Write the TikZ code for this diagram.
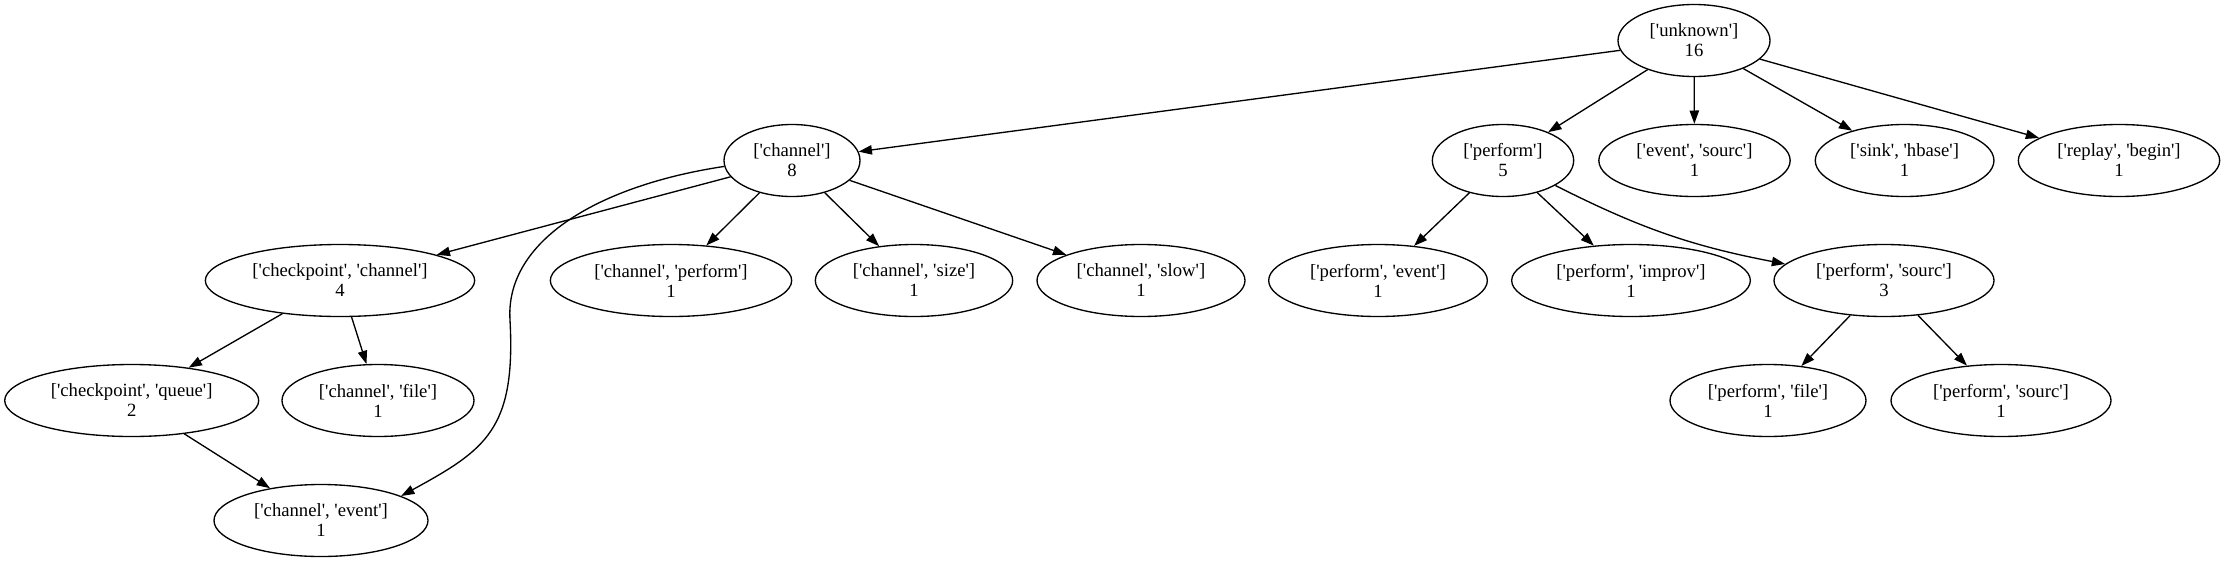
\documentclass[tikz,border=0pt]{standalone}
\usepackage{fontspec}
\setmainfont{Liberation Serif}[Ligatures=TeXOff]
\usetikzlibrary{shapes.geometric,arrows.meta}

\begin{document}
\begin{tikzpicture}[x=0.75pt,y=-0.75pt,line width=1pt]
	\tikzstyle{blob}=[ellipse,draw,inner sep=0pt,minimum height=54pt,align=center,font=\fontsize{14pt}{15pt}\selectfont];
	\tikzstyle{arr}=[-{Triangle[length=10pt,width=7pt]}];
	\useasboundingbox (0,0) rectangle (2221,561);
	%% root
	\node[blob,minimum width=114pt]   (U)   at (1694,40.5)    {['unknown']\\16};
	%% level 1
	\node[blob,minimum width=102pt]   (C)   at (792,160.5)    {['channel']\\8};
	\node[blob,minimum width=106pt]   (P)   at (1503,160.5)   {['perform']\\5};
	\node[blob,minimum width=143.5pt] (ES)  at (1694.5,160.5) {['event', 'sourc']\\1};
	\node[blob,minimum width=134pt]   (SH)  at (1904.6,160.5) {['sink', 'hbase']\\1};
	\node[blob,minimum width=151pt]   (RB)  at (2119,160.5)   {['replay', 'begin']\\1};
	%% level 2
	\node[blob,minimum width=202pt]   (CC)  at (340,280.5)    {['checkpoint', 'channel']\\4};
	\node[blob,minimum width=181pt]   (CP)  at (671,280.5)    {['channel', 'perform']\\1};
	\node[blob,minimum width=148pt]   (CS)  at (914,280.5)    {['channel', 'size']\\1};
	\node[blob,minimum width=156pt]   (CL)  at (1141,280.5)   {['channel', 'slow']\\1};
	\node[blob,minimum width=164pt]   (PE)  at (1378,280.5)   {['perform', 'event']\\1};
	\node[blob,minimum width=179pt]   (PI)  at (1631,280.5)   {['perform', 'improv']\\1};
	\node[blob,minimum width=165pt]   (PS)  at (1884,280.5)   {['perform', 'sourc']\\3};
	%% level 3
	\node[blob,minimum width=190.5pt] (CQ)  at (131.7,400.5)  {['checkpoint', 'queue']\\2};
	\node[blob,minimum width=144pt]   (CF)  at (378,400.5)    {['channel', 'file']\\1};
	\node[blob,minimum width=147pt]   (PF)  at (1768,400.5)   {['perform', 'file']\\1};
	\node[blob,minimum width=165pt]   (PSS) at (2001,400.5)   {['perform', 'sourc']\\1};
	%% level 4
	\node[blob,minimum width=160.5pt] (CE)  at (321,520.5)    {['channel', 'event']\\1};
	%% connections
	\draw[arr] (U) -- (C);
	\draw[arr] (U) -- (P);
	\draw[arr] (U) -- (ES);
	\draw[arr] (U) -- (SH);
	\draw[arr] (U) -- (RB);
	\draw[arr] (C) -- (CC);
	\draw[arr] (C) -- (CP);
	\draw[arr] (C) -- (CS);
	\draw[arr] (C) -- (CL);
	\draw[arr] (C.185) .. controls (600,185) and (505,240) .. (510,320)
	                   .. controls (516,430) and (485,450) .. (CE.17);
	\draw[arr] (P) -- (PE);
	\draw[arr] (P) -- (PI);
	\draw[arr] (P) to[bend right=8] (PS);
	\draw[arr] (CC) -- (CQ);
	\draw[arr] (CC) -- (CF);
	\draw[arr] (CQ) -- (CE);
	\draw[arr] (PS) -- (PF);
	\draw[arr] (PS) -- (PSS);
\end{tikzpicture}
\end{document}
